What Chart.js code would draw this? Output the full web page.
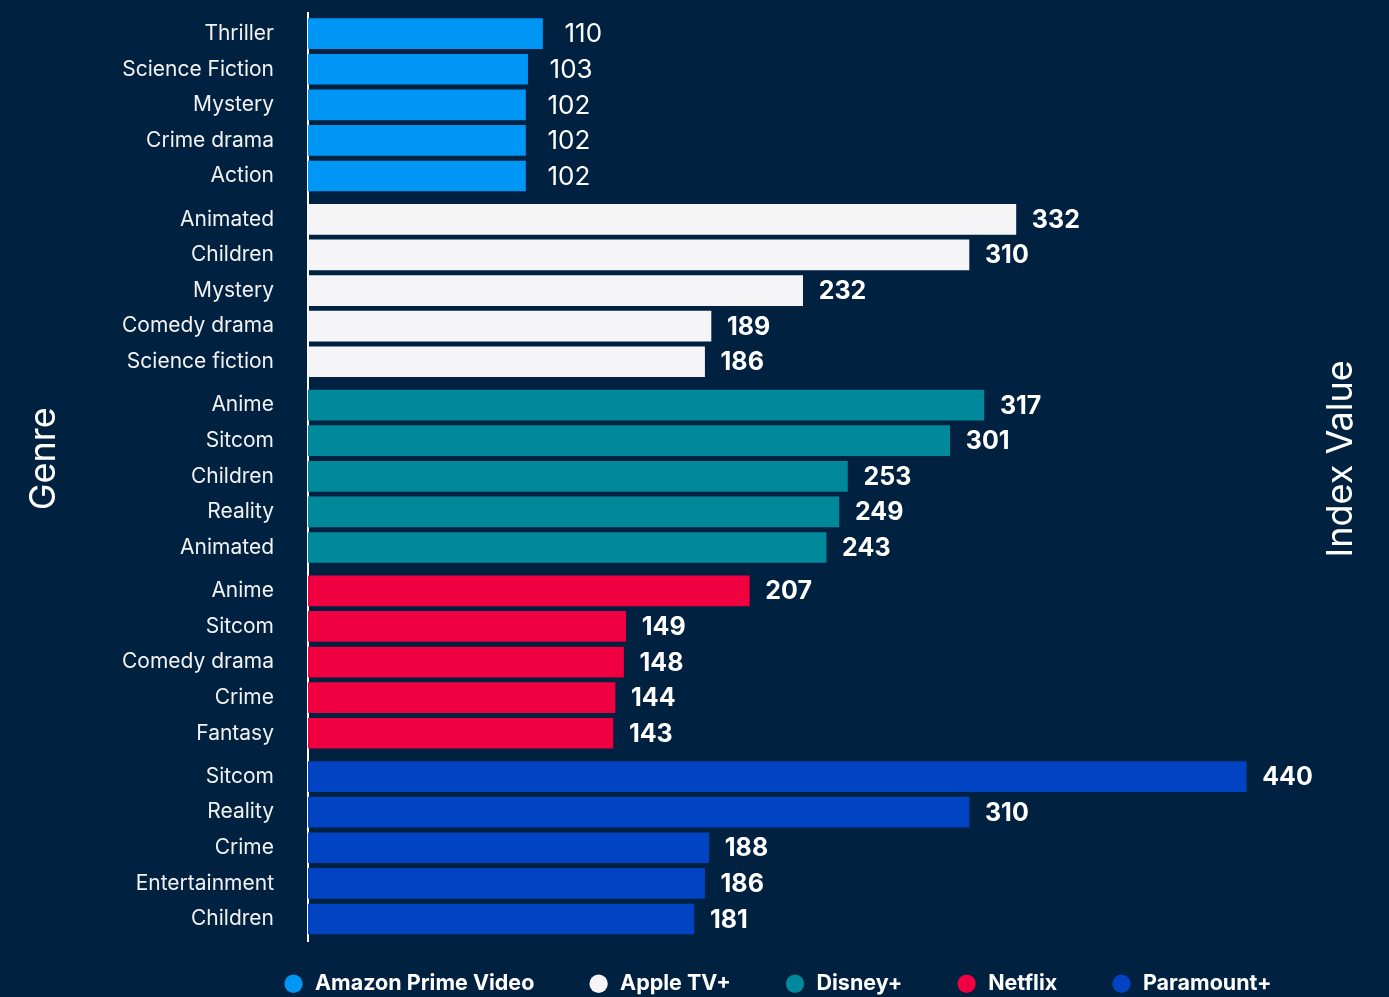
<!DOCTYPE html>
<html lang="en">
<head>
<meta charset="UTF-8">
<title>Index Value by Genre</title>
<script src="https://cdn.jsdelivr.net/npm/chart.js"></script>
<style>
  html, body { margin: 0; padding: 0; background: #00213F; }
  #wrap { width: 1389px; height: 997px; }
</style>
</head>
<body>
<div id="wrap"><canvas id="genreChart" width="1389" height="997"></canvas></div>
<script>
// services (one dataset each)
const services = ['Amazon Prime Video', 'Apple TV+', 'Disney+', 'Netflix', 'Paramount+'];
const serviceColors = ['#0096F6', '#F5F5F7', '#00899A', '#F00040', '#0043C3'];

// top genres per service
const amazonGenres = ['Thriller', 'Science Fiction', 'Mystery', 'Crime drama', 'Action'];
const appleGenres = ['Animated', 'Children', 'Mystery', 'Comedy drama', 'Science fiction'];
const disneyGenres = ['Anime', 'Sitcom', 'Children', 'Reality', 'Animated'];
const netflixGenres = ['Anime', 'Sitcom', 'Comedy drama', 'Crime', 'Fantasy'];
const paramountGenres = ['Sitcom', 'Reality', 'Crime', 'Entertainment', 'Children'];

// index values
const amazonValues = [110, 103, 102, 102, 102];
const appleValues = [332, 310, 232, 189, 186];
const disneyValues = [317, 301, 253, 249, 243];
const netflixValues = [207, 149, 148, 144, 143];
const paramountValues = [440, 310, 188, 186, 181];

const genreLists = [amazonGenres, appleGenres, disneyGenres, netflixGenres, paramountGenres];
const valueLists = [amazonValues, appleValues, disneyValues, netflixValues, paramountValues];

const GROUP_GAP = 0.217; // extra space between services, in rows
const allGenres = [];
const rowPositions = [];
genreLists.forEach((list, g) => {
    list.forEach((name, j) => {
        allGenres.push(name);
        rowPositions.push(g * 5 + j + g * GROUP_GAP);
    });
});

const datasets = services.map((name, g) => ({
    label: name,
    data: valueLists[g].map((v, j) => ({ x: v, y: rowPositions[g * 5 + j] })),
    backgroundColor: serviceColors[g],
    borderWidth: 0,
    barThickness: 30,
    grouped: false
}));

// value labels at the end of each bar
const valueLabels = {
    id: 'valueLabels',
    afterDatasetsDraw(chart) {
        const ctx = chart.ctx;
        ctx.save();
        ctx.fillStyle = '#FFFFFF';
        ctx.textAlign = 'left';
        ctx.textBaseline = 'middle';
        chart.data.datasets.forEach((ds, i) => {
            const meta = chart.getDatasetMeta(i);
            ctx.font = i === 0 ? '400 26px Inter' : '700 25px Inter';
            meta.data.forEach((bar, j) => {
                ctx.fillText(String(ds.data[j].x), bar.x + (i === 0 ? 22 : 16), bar.y + 1);
            });
        });
        ctx.restore();
    }
};

// rotated side titles
function drawSideTitle(ctx, text, x, y) {
    ctx.save();
    ctx.fillStyle = '#FFFFFF';
    ctx.font = '400 36px Inter';
    ctx.textAlign = 'center';
    ctx.textBaseline = 'middle';
    ctx.translate(x, y);
    ctx.rotate(-Math.PI / 2);
    ctx.fillText(text, 0, 0);
    ctx.restore();
}

const sideTitles = {
    id: 'sideTitles',
    afterDraw(chart) {
        const area = chart.chartArea;
        const midY = (area.top + area.bottom) / 2 - 18;
        drawSideTitle(chart.ctx, 'Genre', 44, midY);
        drawSideTitle(chart.ctx, 'Index Value', 1341, midY);
    }
};

const ctx = document.getElementById('genreChart').getContext('2d');
new Chart(ctx, {
    type: 'bar',
    data: { datasets: datasets },
    plugins: [valueLabels, sideTitles],
    options: {
        indexAxis: 'y',
        responsive: false,
        animation: false,
        layout: { padding: { left: 0, right: -187, top: 0, bottom: -7.5 } },
        plugins: {
            tooltip: { enabled: false },
            legend: {
                position: 'bottom',
                labels: {
                    usePointStyle: true,
                    boxWidth: 22,
                    boxHeight: 13,
                    padding: 32,
                    color: '#FFFFFF',
                    font: { family: 'Inter', size: 21.5, weight: '700' },
                    generateLabels(chart) {
                        return chart.data.datasets.map((ds, i) => ({
                            text: ds.label + '\u2003',
                            fillStyle: ds.backgroundColor,
                            strokeStyle: ds.backgroundColor,
                            lineWidth: 0,
                            pointStyle: 'circle',
                            fontColor: '#FFFFFF',
                            hidden: false,
                            datasetIndex: i
                        }));
                    }
                }
            }
        },
        scales: {
            x: {
                type: 'linear',
                display: false,
                min: 0,
                max: 507
            },
            y: {
                type: 'linear',
                reverse: true,
                offset: false,
                min: -0.59,
                max: 25.486,
                afterFit(axis) { axis.width = 308; },
                afterBuildTicks(axis) {
                    axis.ticks = rowPositions.map(v => ({ value: v }));
                },
                grid: { display: false, drawTicks: true, tickLength: 34 },
                border: { display: true, color: '#FFFFFF', width: 2 },
                ticks: {
                    autoSkip: false,
                    padding: 0,
                    color: '#F2F2F2',
                    font: { family: 'Inter', size: 21 },
                    callback: (value, index) => allGenres[index]
                }
            }
        }
    }
});
</script>
</body>
</html>
